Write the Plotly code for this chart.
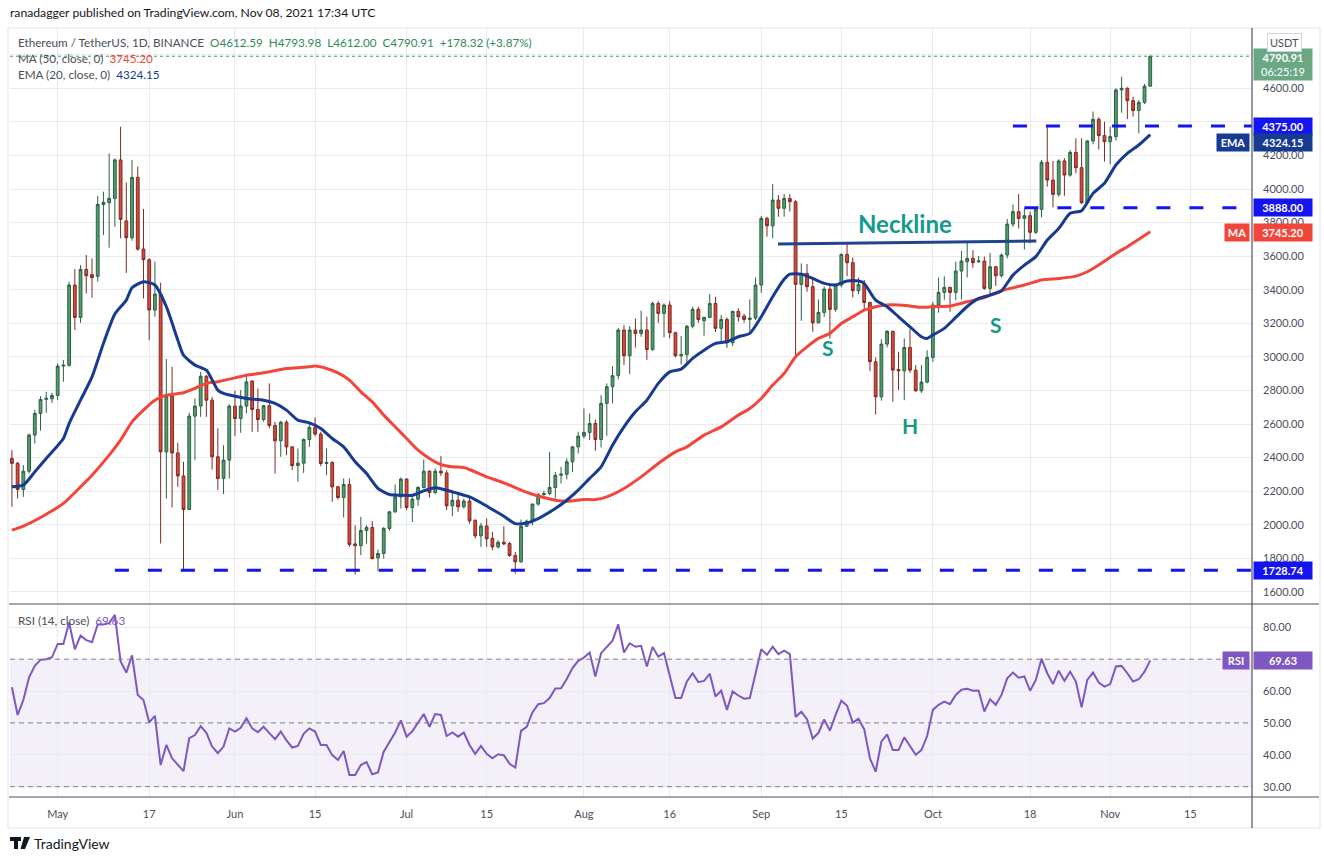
import plotly.graph_objects as go
import pandas as pd

# ETH/USDT daily candles, Binance, Apr 23 2021 -> Nov 08 2021
start_date = "2021-04-23"

open_prices = [
    2395, 2366, 2210, 2319, 2534, 2663, 2747, 2750, 2770, 2945,
    2950, 3428, 3235, 3521, 3490, 3480, 3908, 3918, 3944, 4173,
    3810, 3710, 4069, 3642, 3579, 3279, 3374, 2434, 2768, 2428,
    2291, 2091, 2647, 2707, 2885, 2742, 2405, 2276, 2385, 2707,
    2633, 2707, 2856, 2687, 2627, 2709, 2591, 2500, 2611, 2464,
    2353, 2367, 2508, 2580, 2540, 2365, 2371, 2226, 2162, 2240,
    1886, 1876, 1966, 1984, 1803, 1829, 1978, 2077, 2166, 2272,
    2103, 2152, 2222, 2319, 2192, 2319, 2309, 2113, 2146, 2107,
    2141, 2027, 1934, 1993, 1918, 1868, 1896, 1888, 1817, 1779,
    1991, 2021, 2123, 2180, 2186, 2222, 2295, 2301, 2375, 2464,
    2528, 2550, 2603, 2508, 2723, 2822, 2888, 3160, 3007, 3160,
    3140, 3160, 3044, 3318, 3259, 3309, 3144, 3007, 3014, 3183,
    3283, 3215, 3235, 3318, 3170, 3223, 3084, 3271, 3243, 3223,
    3231, 3428, 3825, 3781, 3934, 3885, 3944, 3924, 3432, 3497,
    3418, 3203, 3265, 3404, 3283, 3428, 3610, 3561, 3394, 3432,
    3324, 2971, 2762, 3076, 3152, 2925, 2917, 3056, 2921, 2798,
    2850, 2997, 3309, 3384, 3414, 3384, 3511, 3567, 3587, 3567,
    3571, 3408, 3537, 3483, 3607, 3791, 3865, 3825, 3841, 3742,
    3879, 4159, 4053, 3968, 4167, 4083, 4218, 4127, 3918, 4286,
    4415, 4318, 4282, 4312, 4590, 4600, 4526, 4467, 4516, 4612.59,
]
high_prices = [
    2445, 2375, 2355, 2544, 2684, 2766, 2792, 2786, 2961, 2981,
    3448, 3523, 3547, 3607, 3587, 3958, 3984, 4212, 4183, 4371,
    4038, 4173, 4133, 3881, 3587, 3567, 3442, 2987, 2941, 2488,
    2375, 2667, 2752, 2911, 2891, 2762, 2574, 2474, 2718, 2798,
    2802, 2891, 2862, 2812, 2713, 2842, 2613, 2619, 2623, 2468,
    2454, 2514, 2603, 2639, 2554, 2454, 2379, 2230, 2276, 2276,
    1997, 2047, 1997, 2023, 1852, 1987, 2081, 2240, 2282, 2276,
    2176, 2230, 2389, 2325, 2335, 2409, 2325, 2190, 2196, 2156,
    2166, 2031, 2011, 2037, 1958, 1908, 1991, 1898, 1838, 2031,
    2031, 2127, 2190, 2202, 2434, 2315, 2345, 2395, 2468, 2554,
    2693, 2663, 2627, 2772, 2842, 2945, 3172, 3189, 3183, 3229,
    3275, 3239, 3328, 3332, 3318, 3332, 3150, 3124, 3189, 3299,
    3299, 3239, 3374, 3358, 3249, 3235, 3275, 3289, 3255, 3342,
    3473, 3839, 3835, 4030, 3964, 3970, 3970, 3934, 3557, 3553,
    3477, 3342, 3418, 3438, 3438, 3616, 3676, 3593, 3473, 3458,
    3328, 2997, 3104, 3160, 3156, 3030, 3110, 3164, 2951, 2951,
    3040, 3328, 3473, 3480, 3418, 3567, 3632, 3686, 3636, 3601,
    3597, 3620, 3541, 3616, 3821, 3908, 3970, 3885, 3865, 3889,
    4173, 4371, 4167, 4177, 4183, 4232, 4302, 4302, 4292, 4461,
    4427, 4401, 4371, 4600, 4669, 4606, 4550, 4530, 4626, 4793.98,
]
low_prices = [
    2107, 2156, 2166, 2305, 2484, 2560, 2667, 2726, 2742, 2852,
    2941, 3160, 3203, 3378, 3352, 3448, 3726, 3650, 3775, 3706,
    3501, 3692, 3632, 3348, 3100, 3239, 1888, 2156, 2103, 2226,
    1729, 2087, 2385, 2643, 2643, 2329, 2206, 2183, 2276, 2528,
    2548, 2663, 2554, 2554, 2613, 2574, 2305, 2405, 2415, 2325,
    2256, 2309, 2464, 2528, 2349, 2295, 2137, 2150, 2043, 1868,
    1704, 1819, 1888, 1793, 1723, 1799, 1964, 2071, 2097, 2087,
    2017, 2113, 2216, 2162, 2182, 2290, 2087, 2051, 2077, 2097,
    2007, 1918, 1868, 1868, 1848, 1858, 1878, 1809, 1710, 1773,
    1987, 1997, 2113, 2160, 2176, 2156, 2246, 2270, 2315, 2425,
    2514, 2504, 2440, 2460, 2530, 2723, 2866, 2951, 2897, 3056,
    3120, 2981, 3036, 3203, 3116, 3110, 2997, 2955, 2967, 3170,
    3203, 3126, 3231, 3148, 3090, 3054, 3064, 3209, 3203, 3140,
    3219, 3382, 3716, 3706, 3835, 3835, 3865, 3004, 3215, 3388,
    3150, 3199, 3239, 3110, 3269, 3414, 3481, 3354, 3374, 3279,
    2915, 2657, 2739, 3056, 2733, 2802, 2742, 2905, 2792, 2786,
    2842, 2971, 3263, 3340, 3269, 3338, 3342, 3473, 3531, 3561,
    3400, 3368, 3422, 3473, 3587, 3775, 3765, 3640, 3676, 3732,
    3831, 4014, 3891, 3954, 3960, 4073, 4093, 3910, 3910, 4266,
    4236, 4163, 4147, 4288, 4455, 4417, 4431, 4332, 4506, 4612.00,
]
close_prices = [
    2366, 2210, 2319, 2534, 2663, 2746, 2753, 2770, 2945, 2950,
    3428, 3235, 3521, 3483, 3472, 3908, 3920, 3944, 4173, 3819,
    3710, 4069, 3642, 3579, 3279, 3374, 2434, 2768, 2428, 2291,
    2091, 2647, 2707, 2885, 2742, 2405, 2276, 2385, 2707, 2633,
    2707, 2851, 2687, 2627, 2709, 2591, 2500, 2611, 2464, 2353,
    2367, 2508, 2580, 2540, 2365, 2371, 2226, 2162, 2240, 1882,
    1876, 1966, 1984, 1799, 1829, 1978, 2077, 2166, 2272, 2103,
    2152, 2222, 2319, 2192, 2319, 2309, 2113, 2146, 2107, 2141,
    2023, 1934, 1993, 1916, 1868, 1896, 1886, 1817, 1779, 1991,
    2021, 2123, 2180, 2186, 2222, 2295, 2301, 2375, 2464, 2528,
    2550, 2603, 2508, 2723, 2822, 2888, 3160, 3007, 3160, 3140,
    3160, 3044, 3318, 3259, 3309, 3144, 3007, 3014, 3183, 3283,
    3223, 3235, 3318, 3170, 3223, 3084, 3271, 3239, 3223, 3231,
    3428, 3825, 3781, 3934, 3885, 3944, 3924, 3432, 3497, 3418,
    3203, 3265, 3404, 3283, 3428, 3610, 3561, 3394, 3432, 3324,
    2971, 2762, 3076, 3152, 2921, 2917, 3056, 2921, 2798, 2850,
    2997, 3309, 3384, 3414, 3384, 3511, 3571, 3587, 3561, 3571,
    3408, 3537, 3483, 3607, 3791, 3865, 3825, 3841, 3742, 3879,
    4159, 4053, 3968, 4167, 4083, 4218, 4127, 3918, 4286, 4415,
    4318, 4282, 4312, 4590, 4600, 4526, 4467, 4516, 4612.59, 4790.91,
]

# EMA 20 and MA 50 (day offset from start_date, value)
ema_days = [0, 2, 4, 6, 9, 10, 12, 14, 16, 18, 20, 21, 23, 25, 27, 29, 30, 32, 34, 36,
            37, 39, 41, 44, 46, 48, 50, 52, 54, 56, 58, 60, 62, 64, 66, 68, 70, 72, 74, 76,
            78, 80, 82, 84, 86, 88, 90, 92, 95, 97, 99, 101, 103, 105, 107, 109, 111, 113, 115, 117,
            119, 121, 123, 125, 127, 129, 131, 133, 135, 136, 138, 140, 142, 144, 146, 148, 149, 151, 153, 155,
            157, 159, 160, 161, 163, 165, 167, 169, 171, 173, 175, 177, 179, 181, 183, 185, 187, 189, 191, 193,
            195, 197, 199]
ema_vals = [2226, 2236, 2315, 2395, 2514, 2603, 2742, 2881, 3080, 3255, 3338, 3412, 3448, 3428, 3299, 3100, 3010, 2951, 2921, 2802,
            2782, 2765, 2752, 2742, 2723, 2683, 2623, 2607, 2574, 2514, 2464, 2375, 2305, 2216, 2180, 2176, 2176, 2202, 2220, 2206,
            2186, 2166, 2131, 2091, 2051, 2007, 2011, 2037, 2097, 2146, 2206, 2276, 2345, 2474, 2583, 2673, 2742, 2842, 2911, 2927,
            2991, 3040, 3080, 3090, 3120, 3140, 3239, 3358, 3462, 3493, 3493, 3467, 3438, 3428, 3452, 3452, 3438, 3338, 3299, 3239,
            3179, 3120, 3110, 3130, 3170, 3235, 3300, 3348, 3368, 3394, 3487, 3547, 3597, 3696, 3765, 3855, 3871, 3974, 4034, 4143,
            4212, 4262, 4324.15]

ma_days = [0, 2, 6, 9, 12, 14, 17, 19, 21, 23, 25, 27, 30, 32, 34, 36, 39, 41, 44, 48,
           50, 52, 53, 55, 57, 59, 61, 63, 65, 67, 69, 71, 73, 75, 77, 79, 81, 83, 85, 87,
           89, 91, 93, 95, 97, 100, 102, 104, 107, 110, 113, 116, 118, 121, 124, 127, 129, 131, 133, 135,
           137, 139, 141, 143, 145, 147, 149, 151, 153, 155, 157, 159, 161, 164, 167, 170, 173, 177, 180, 183,
           186, 188, 190, 193, 195, 197, 199]
ma_vals = [1968, 1992, 2063, 2127, 2226, 2295, 2415, 2504, 2613, 2683, 2742, 2772, 2786, 2812, 2842, 2852, 2875, 2891, 2905, 2931,
           2935, 2941, 2945, 2931, 2905, 2862, 2792, 2732, 2653, 2584, 2514, 2444, 2395, 2359, 2345, 2341, 2315, 2285, 2262, 2236,
           2206, 2182, 2162, 2146, 2140, 2150, 2150, 2166, 2216, 2285, 2365, 2434, 2464, 2534, 2583, 2653, 2693, 2752, 2832, 2901,
           3001, 3060, 3110, 3140, 3199, 3239, 3279, 3299, 3309, 3309, 3303, 3295, 3299, 3303, 3328, 3354, 3394, 3428, 3458, 3467,
           3481, 3507, 3547, 3616, 3656, 3700, 3745.20]

# RSI(14), one value per candle
rsi_vals = [
    61.2, 52.5, 57.2, 64.3, 67.9, 69.8, 70.0, 70.6, 74.8, 74.8,
    81.5, 73.1, 77.4, 76.0, 75.3, 80.9, 80.9, 81.3, 83.9, 69.3,
    65.8, 71.2, 58.8, 57.2, 50.2, 52.2, 36.8, 43.1, 38.9, 37.0,
    34.9, 45.2, 46.2, 49.0, 46.9, 42.6, 40.5, 42.6, 48.3, 47.3,
    48.5, 51.5, 48.3, 47.1, 48.8, 46.8, 44.9, 47.3, 44.5, 42.3,
    42.8, 46.6, 48.3, 47.3, 43.1, 43.1, 39.9, 38.4, 41.2, 33.7,
    33.7, 36.8, 37.7, 33.9, 34.5, 41.0, 44.2, 47.0, 50.8, 45.7,
    47.4, 50.0, 52.8, 48.8, 52.8, 52.5, 45.9, 47.0, 45.7, 47.0,
    43.1, 40.3, 42.8, 40.3, 38.9, 40.2, 39.9, 37.2, 36.0, 47.5,
    48.8, 53.3, 55.9, 56.2, 57.8, 60.8, 60.9, 63.8, 67.2, 69.5,
    70.5, 72.1, 64.6, 71.9, 73.9, 75.8, 80.9, 72.1, 75.0, 73.9,
    74.2, 67.7, 73.8, 70.8, 71.9, 64.8, 57.8, 57.8, 63.0, 65.6,
    62.8, 63.2, 65.4, 58.3, 60.1, 54.1, 59.9, 58.6, 57.6, 57.8,
    65.6, 73.1, 71.4, 73.9, 71.6, 72.7, 71.6, 51.9, 53.5, 51.2,
    45.1, 46.9, 51.1, 47.6, 52.5, 57.0, 55.4, 50.1, 51.3, 48.0,
    38.9, 34.7, 44.1, 46.4, 41.5, 41.5, 45.5, 42.6, 40.0, 41.5,
    45.9, 54.1, 55.7, 56.7, 55.9, 58.8, 60.4, 60.7, 60.1, 60.2,
    53.6, 57.4, 55.7, 58.8, 64.0, 65.8, 64.2, 64.6, 60.1, 63.5,
    70.1, 65.6, 62.2, 66.4, 63.2, 66.1, 63.0, 54.9, 63.5, 65.8,
    62.7, 61.4, 62.2, 67.7, 67.9, 65.6, 63.0, 63.7, 66.1, 69.63,
]

# drawn levels / pattern annotations
support_levels = [4375.00, 3888.00, 1728.74]
support_from = ["2021-10-15", "2021-10-17", "2021-05-11"]
neck_dates = ["2021-09-03 22:00", "2021-10-19 02:00"]
neck_prices = [3672, 3690]
pattern_text = ["<b>Neckline</b>", "<b>S</b>", "<b>H</b>", "<b>S</b>"]
pattern_dates = ["2021-09-26 04:00", "2021-09-12 16:00", "2021-09-27 00:00", "2021-10-12 00:00"]
pattern_prices = [3792, 3058, 2594, 3190]
pattern_sizes = [24, 21, 21, 21]
rsi_levels = [70, 50, 30]

# axis ticks (labels hidden behind the value boxes are left out)
price_ticks = [1600, 1800, 2000, 2200, 2400, 2600, 2800, 3000, 3200, 3400, 3600, 3800, 4000, 4200, 4600]
rsi_ticks = [30, 40, 50, 60, 80]
x_ticks = ["2021-05-01", "2021-05-17", "2021-06-01", "2021-06-15", "2021-07-01", "2021-07-15",
           "2021-08-01", "2021-08-16", "2021-09-01", "2021-09-15", "2021-10-01", "2021-10-18",
           "2021-11-01", "2021-11-15"]
x_labels = ["May", "17", "Jun", "15", "Jul", "15", "Aug", "16", "Sep", "15", "Oct", "18", "Nov", "15"]
x_range = ["2021-04-22 16:00", "2021-11-25 19:00"]

W, H = 1324, 860
FONT = "Lato"
UP_FILL, UP_LINE = "#4e9f6c", "#2f5f43"
DN_FILL, DN_LINE = "#dc4638", "#7a2c24"
EMA_C, MA_C, RSI_C = "#173a93", "#f2463b", "#7e57c2"
LVL_C, TEAL = "#1414f0", "#14998a"
GRID = "#e9eaee"
TXT = "#4a4e5a"


def fx(px):
    return px / W


def fy(py):
    return 1 - py / H


dates = pd.date_range(start_date, periods=len(close_prices), freq="D")
ema_dates = dates[ema_days]
ma_dates = dates[ma_days]

fig = go.Figure()

fig.add_trace(go.Candlestick(
    x=dates, open=open_prices, high=high_prices, low=low_prices, close=close_prices,
    increasing=dict(line=dict(color=UP_LINE, width=1), fillcolor=UP_FILL),
    decreasing=dict(line=dict(color=DN_LINE, width=1), fillcolor=DN_FILL),
    whiskerwidth=0, showlegend=False, hoverinfo="skip", xaxis="x", yaxis="y"))

fig.add_trace(go.Scatter(x=ma_dates, y=ma_vals, mode="lines", line=dict(color=MA_C, width=3, shape="spline", smoothing=0.6),
                         showlegend=False, hoverinfo="skip", xaxis="x", yaxis="y"))
fig.add_trace(go.Scatter(x=ema_dates, y=ema_vals, mode="lines", line=dict(color=EMA_C, width=3, shape="spline", smoothing=0.6),
                         showlegend=False, hoverinfo="skip", xaxis="x", yaxis="y"))

# horizontal support / resistance levels
for lvl, start in zip(support_levels, support_from):
    fig.add_trace(go.Scatter(x=[start, x_range[1]], y=[lvl, lvl], mode="lines",
                             line=dict(color=LVL_C, width=3, dash="14px,19px"),
                             showlegend=False, hoverinfo="skip", xaxis="x", yaxis="y"))

fig.add_trace(go.Scatter(x=neck_dates, y=neck_prices, mode="lines", line=dict(color="#21448f", width=3),
                         showlegend=False, hoverinfo="skip", xaxis="x", yaxis="y"))

# RSI pane
fig.add_trace(go.Scatter(x=dates, y=rsi_vals, mode="lines", line=dict(color=RSI_C, width=2),
                         showlegend=False, hoverinfo="skip", xaxis="x2", yaxis="y2"))

x_dom = [fx(10), fx(1252)]
fig.update_layout(
    width=W, height=H, margin=dict(l=0, r=0, t=0, b=0),
    paper_bgcolor="white", plot_bgcolor="white",
    font=dict(family=FONT, color=TXT, size=11),
    xaxis=dict(domain=x_dom, range=x_range, type="date", anchor="y", tickvals=x_ticks, showticklabels=False,
               showgrid=True, gridcolor=GRID, zeroline=False, showline=False, ticks="",
               rangeslider=dict(visible=False), fixedrange=True),
    xaxis2=dict(domain=x_dom, range=x_range, type="date", anchor="y2", matches="x", tickvals=x_ticks,
                ticktext=x_labels, showgrid=True, gridcolor=GRID, zeroline=False, showline=False, ticks="",
                ticklabelstandoff=9, tickfont=dict(size=11, color=TXT)),
    yaxis=dict(domain=[fy(604), fy(28)], range=[1528, 4959], side="right", anchor="x", tickvals=price_ticks,
               tickformat=".2f", showgrid=True, gridcolor=GRID, zeroline=False, showline=False, ticks="",
               minor=dict(dtick=200, tick0=0, showgrid=True, gridcolor=GRID, ticks=""),
               ticklabelstandoff=10, tickfont=dict(size=11, color=TXT)),
    yaxis2=dict(domain=[fy(797), fy(605)], range=[26.77, 87.0], side="right", anchor="x2",
                tickvals=rsi_ticks, tickformat=".2f", showgrid=True, gridcolor=GRID,
                zeroline=False, showline=False, ticks="", ticklabelstandoff=10, tickfont=dict(size=11, color=TXT)),
)

shapes = []
# RSI band and dashed levels
shapes.append(dict(type="rect", xref="x2 domain", x0=0, x1=1, yref="y2", y0=min(rsi_levels), y1=max(rsi_levels),
                   fillcolor="rgba(126,87,194,0.09)", line=dict(width=0), layer="below"))
for lvl in rsi_levels:
    shapes.append(dict(type="line", xref="x2 domain", x0=0, x1=1, yref="y2", y0=lvl, y1=lvl,
                       line=dict(color="#7d7f88", width=1, dash="5px,4px")))
# last price dotted line
shapes.append(dict(type="line", xref="x domain", x0=0, x1=1, yref="y", y0=close_prices[-1], y1=close_prices[-1],
                   line=dict(color="#3e9a66", width=1, dash="dot")))
# frame / pane separators
shapes.append(dict(type="rect", xref="paper", yref="paper", x0=fx(8), x1=fx(1320), y0=fy(828), y1=fy(28),
                   line=dict(color="#e0e3eb", width=1)))
for yy in (604, 797):
    shapes.append(dict(type="line", xref="paper", yref="paper", x0=fx(9), x1=fx(1319), y0=fy(yy), y1=fy(yy),
                       line=dict(color="#50535e", width=1.2)))
shapes.append(dict(type="line", xref="paper", yref="paper", x0=fx(1252), x1=fx(1252), y0=fy(828), y1=fy(28),
                   line=dict(color="#50535e", width=1.2)))
# TradingView logo mark
shapes.append(dict(type="path", xref="paper", yref="paper", fillcolor="#131722", line=dict(width=0),
                   path=(f"M {fx(10)} {fy(837)} L {fx(21)} {fy(837)} L {fx(21)} {fy(841)} L {fx(18)} {fy(841)} "
                         f"L {fx(18)} {fy(849)} L {fx(14)} {fy(849)} L {fx(14)} {fy(841)} L {fx(10)} {fy(841)} Z")))
shapes.append(dict(type="path", xref="paper", yref="paper", fillcolor="#131722", line=dict(width=0),
                   path=(f"M {fx(24)} {fy(837)} L {fx(30)} {fy(837)} L {fx(25)} {fy(849)} L {fx(20.5)} {fy(849)} Z")))
fig.update_layout(shapes=shapes)

ann = []


def text_at(x_px, y_px, text, size=12, color=TXT, anchor="left"):
    ann.append(dict(xref="paper", yref="paper", x=fx(x_px), y=fy(y_px), text=text, showarrow=False,
                    xanchor=anchor, yanchor="middle", font=dict(size=size, color=color, family=FONT)))


sp = "\u00a0\u00a0"
chg = close_prices[-1] - close_prices[-2]
pct = chg / close_prices[-2] * 100
green_txt = "#2f8a57"
text_at(8, 13, "ranadagger published on TradingView.com, Nov 08, 2021 17:34 UTC", size=12.2, color="#131722")
text_at(16, 42, "Ethereum / TetherUS, 1D, BINANCE" + sp
        + f"<span style='color:{green_txt}'>O{open_prices[-1]:.2f}{sp}H{high_prices[-1]:.2f}{sp}"
        + f"L{low_prices[-1]:.2f}{sp}C{close_prices[-1]:.2f}{sp}+{chg:.2f} (+{pct:.2f}%)</span>", size=11.7)
text_at(16, 58, f"MA (50, close, 0)\u00a0 <span style='color:{MA_C}'>{ma_vals[-1]:.2f}</span>", size=11.7)
text_at(16, 74, f"EMA (20, close, 0)\u00a0 <span style='color:{EMA_C}'>{ema_vals[-1]:.2f}</span>", size=11.7)
text_at(16, 620, f"RSI (14, close)\u00a0 <span style='color:{RSI_C}'>{rsi_vals[-1]:.2f}</span>", size=11.7)
text_at(32, 843, "TradingView", size=14, color="#131722")

# pattern labels on the chart
for t, d, p, s in zip(pattern_text, pattern_dates, pattern_prices, pattern_sizes):
    ann.append(dict(xref="x", yref="y", x=d, y=p, text=t, showarrow=False, xanchor="center", yanchor="middle",
                    font=dict(size=s, color=TEAL, family=FONT)))


def axis_box(y_val, yref, text, bg, x_px=1253, anchor="left", width=54, fg="white", yshift=0, yanchor="middle"):
    ann.append(dict(xref="paper", yref=yref, x=fx(x_px), y=y_val, text=text, showarrow=False,
                    xanchor=anchor, yanchor=yanchor, yshift=yshift, bgcolor=bg, borderpad=2, width=width,
                    align="center", font=dict(size=11, color=fg, family=FONT)))


axis_box(close_prices[-1], "y", f"<b>{close_prices[-1]:.2f}</b><br>06:25:19", "#6aa883", yanchor="top", yshift=8)
for lvl in support_levels:
    axis_box(lvl, "y", f"<b>{lvl:.2f}</b>", LVL_C)
# the EMA tag is pushed down below the 4375 tag, as the platform does
axis_box(ema_vals[-1], "y", f"<b>{ema_vals[-1]:.2f}</b>", EMA_C, yshift=-8)
axis_box(ema_vals[-1], "y", "<b>EMA</b>", EMA_C, x_px=1250, anchor="right", width=28, yshift=-8)
axis_box(ma_vals[-1], "y", f"<b>{ma_vals[-1]:.2f}</b>", MA_C, yshift=-1)
axis_box(ma_vals[-1], "y", "<b>MA</b>", MA_C, x_px=1250, anchor="right", width=20, yshift=-1)
axis_box(rsi_vals[-1], "y2", f"<b>{rsi_vals[-1]:.2f}</b>", RSI_C)
axis_box(rsi_vals[-1], "y2", "<b>RSI</b>", RSI_C, x_px=1250, anchor="right", width=22)
ann.append(dict(xref="paper", yref="paper", x=fx(1284), y=fy(42), text="USDT", showarrow=False,
                xanchor="center", yanchor="middle", bgcolor="white", bordercolor="#d1d4dc", borderwidth=1,
                borderpad=2, font=dict(size=11, color=TXT, family=FONT)))

fig.update_layout(annotations=ann)

# page body has a default 8px margin; drop it so the figure sits at the window origin
fig.write_html("out.html", config={"displayModeBar": False},
               post_script="document.body.style.margin='0px';")
